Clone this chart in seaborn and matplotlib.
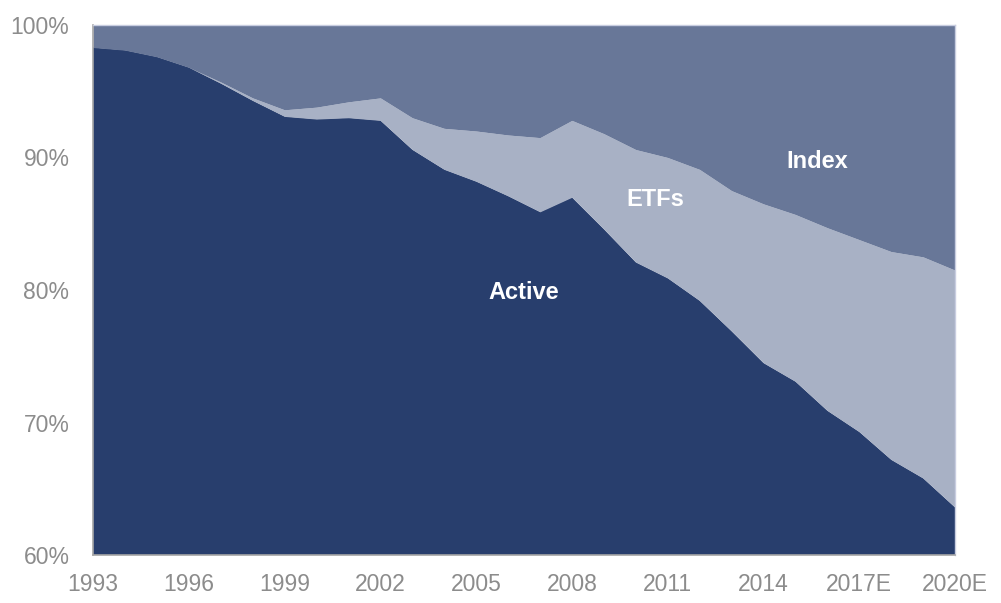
import numpy as np
import pandas as pd
import matplotlib.pyplot as plt
import seaborn as sns

# --- Data (share of assets, %) ---
years = list(range(1993, 2021))
active = [98.3, 98.1, 97.6, 96.8, 95.6, 94.3, 93.1, 92.9, 93.0, 92.8,
          90.6, 89.1, 88.2, 87.1, 85.9, 87.0, 84.6, 82.1, 80.9, 79.2,
          76.9, 74.5, 73.1, 70.9, 69.3, 67.2, 65.8, 63.6]
active_etf = [98.3, 98.1, 97.6, 96.8, 95.7, 94.5, 93.6, 93.8, 94.2, 94.5,
              93.0, 92.2, 92.0, 91.7, 91.5, 92.8, 91.8, 90.6, 90.0, 89.1,
              87.5, 86.5, 85.7, 84.7, 83.8, 82.9, 82.5, 81.5]
tick_years = list(range(1993, 2021, 3))
tick_labels = ["1993", "1996", "1999", "2002", "2005", "2008", "2011", "2014", "2017E", "2020E"]
y_ticks = [60, 70, 80, 90, 100]

df = pd.DataFrame({"year": years, "Active": active})
df["ETFs"] = np.array(active_etf) - df["Active"]
df["Index"] = 100 - np.array(active_etf)

colors = ["#283e6d", "#a8b1c5", "#687798"]

sns.set_style("white")
plt.rcParams['font.family'] = ['DejaVu Sans Condensed', 'Liberation Sans', 'DejaVu Sans']

fig = plt.figure(figsize=(10.01, 6.03), dpi=100)
ax = fig.add_axes([93 / 1001, 48 / 603, 862 / 1001, 530 / 603])
ax.stackplot(df["year"], df["Active"], df["ETFs"], df["Index"],
             colors=colors, linewidth=0)

ax.set_xlim(1993, 2020)
ax.set_ylim(60, 100)
ax.set_xticks(tick_years)
ax.set_xticklabels(tick_labels)
ax.set_yticks(y_ticks)
ax.set_yticklabels([f"{v}%" for v in y_ticks])
ax.tick_params(axis="both", length=0, labelsize=16.5, labelcolor="#8c8c8c")
ax.tick_params(axis="y", pad=17)
ax.tick_params(axis="x", pad=13)
for side in ["left", "bottom"]:
    ax.spines[side].set_color("#a6a6a6")
    ax.spines[side].set_linewidth(1.2)
for side in ["top", "right"]:
    ax.spines[side].set_color("#c8cde0")
    ax.spines[side].set_linewidth(1.0)

txt = dict(color="white", fontsize=17, fontweight="bold", ha="center", va="center")
ax.text(2006.5, 79.8, "Active", **txt)
ax.text(2010.6, 86.8, "ETFs", **txt)
ax.text(2015.7, 89.7, "Index", **txt)

fig.savefig("out.png", dpi=100)
